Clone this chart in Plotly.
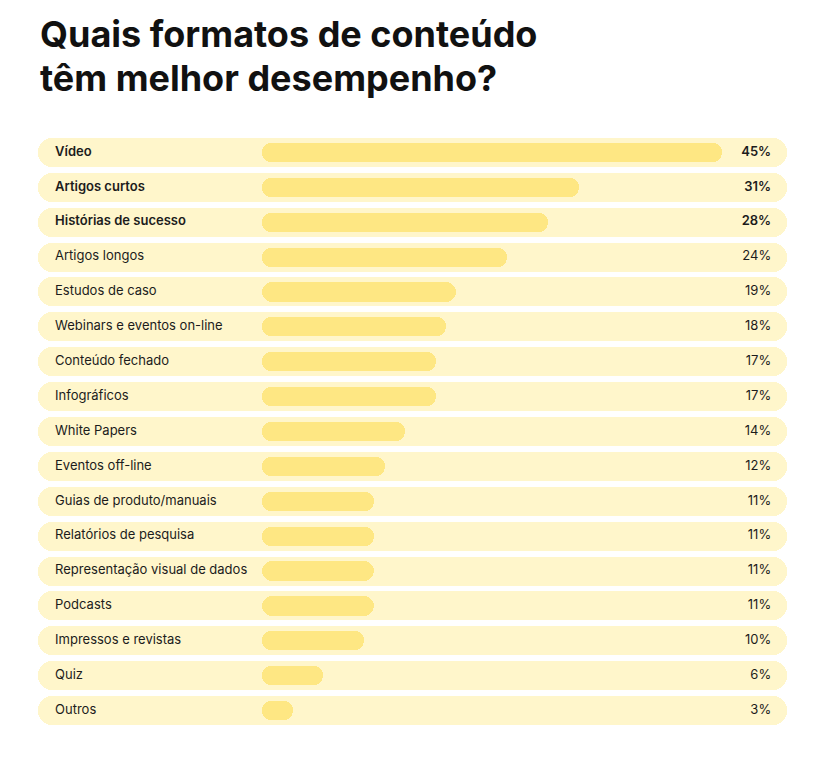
import plotly.graph_objects as go

categories = ["Vídeo", "Artigos curtos", "Histórias de sucesso", "Artigos longos",
              "Estudos de caso", "Webinars e eventos on-line", "Conteúdo fechado",
              "Infográficos", "White Papers", "Eventos off-line",
              "Guias de produto/manuais", "Relatórios de pesquisa",
              "Representação visual de dados", "Podcasts", "Impressos e revistas",
              "Quiz", "Outros"]
values = [45, 31, 28, 24, 19, 18, 17, 17, 14, 12, 11, 11, 11, 11, 10, 6, 3]
value_labels = [f"{v}%" for v in values]
highlight = [True, True, True] + [False] * 14
title_lines = ["Quais formatos de conteúdo", "têm melhor desempenho?"]

n = len(categories)
rows = list(range(n))

# axis geometry (data units = percent)
XMIN, XMAX = -21.93, 51.40
LABEL_X = -20.26
PCT_X = 49.85

fig = go.Figure()

# background pills
fig.add_trace(go.Bar(
    y=rows, x=[XMAX - XMIN] * n, base=[XMIN] * n, orientation="h",
    width=0.83, marker=dict(color="#FFF6CB", cornerradius=14, line=dict(width=0)),
    hoverinfo="skip", showlegend=False))

# value bars
fig.add_trace(go.Bar(
    y=rows, x=values, base=[0] * n, orientation="h", width=0.55,
    marker=dict(color="#FEE783", cornerradius=10, line=dict(width=0)),
    hoverinfo="skip", showlegend=False))

font_fam = "Inter, Lato, 'Open Sans', sans-serif"

def split(lst, flag):
    return [l for l, h in zip(lst, highlight) if h == flag]

for flag, w in ((True, 600), (False, 400)):
    ys = split(rows, flag)
    fig.add_trace(go.Scatter(
        x=[LABEL_X] * len(ys), y=ys, mode="text", text=split(categories, flag),
        textposition="middle right",
        textfont=dict(family=font_fam, size=13, color="#1c1c1c", weight=w),
        hoverinfo="skip", showlegend=False))
    fig.add_trace(go.Scatter(
        x=[PCT_X] * len(ys), y=ys, mode="text", text=split(value_labels, flag),
        textposition="middle left",
        textfont=dict(family=font_fam, size=13, color="#1c1c1c", weight=w),
        hoverinfo="skip", showlegend=False))

W, H = 824, 752
ML, MR, MT, MB = 30, 45, 126.5, 31.5
PW, PH = W - ML - MR, H - MT - MB

annotations = []
for line, yc in zip(title_lines, (25.5, 69.5)):
    annotations.append(dict(
        text=line, xref="paper", yref="paper",
        x=(30 - ML) / PW, xanchor="left",
        y=1 + (MT - yc) / PH, yanchor="middle", align="left",
        showarrow=False,
        font=dict(family=font_fam, size=36, color="#111111", weight=700)))

fig.update_layout(
    width=W, height=H,
    margin=dict(l=ML, r=MR, t=MT, b=MB),
    paper_bgcolor="white", plot_bgcolor="white",
    barmode="overlay", bargap=0,
    xaxis=dict(range=[XMIN, XMAX], visible=False, fixedrange=True),
    yaxis=dict(range=[n - 0.5, -0.5], visible=False, fixedrange=True),
    annotations=annotations,
)

fig.write_html("out.html")
